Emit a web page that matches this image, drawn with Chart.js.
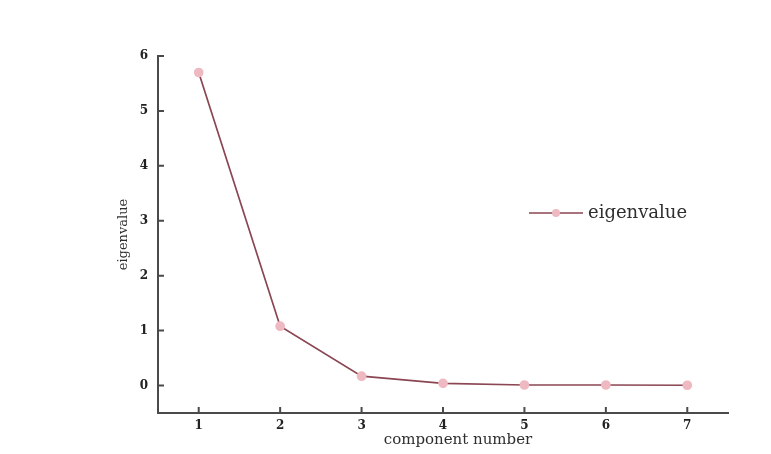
<!DOCTYPE html>
<html>
<head>
<meta charset="utf-8">
<script src="https://cdn.jsdelivr.net/npm/chart.js@4"></script>
<style>
    html, body { margin: 0; padding: 0; background: #ffffff; }
    #wrap { width: 771px; height: 454px; }
</style>
</head>
<body>
<div id="wrap"><canvas id="chart" width="771" height="454"></canvas></div>
<script>
// values
const components = [1, 2, 3, 4, 5, 6, 7];
const eigenvalues = [5.70, 1.08, 0.17, 0.04, 0.01, 0.01, 0.005];
const xTicks = [1, 2, 3, 4, 5, 6, 7];
const yTicks = [0, 1, 2, 3, 4, 5, 6];

const axisColor = '#4a4a4a';
const lineColor = '#8a4652';
const pointColor = '#efb9c2';
const serif = "'DejaVu Serif', 'Liberation Serif', serif";

// small ticks pointing into the plot, the x title (sits a bit right of centre) and the legend
const extras = {
    id: 'extras',
    afterDraw(chart) {
        const ctx = chart.ctx;
        const x = chart.scales.x;
        const y = chart.scales.y;
        const area = chart.chartArea;
        ctx.save();
        ctx.strokeStyle = axisColor;
        ctx.lineWidth = 2;
        ctx.beginPath();
        for (const t of xTicks) {
            const px = x.getPixelForValue(t);
            ctx.moveTo(px, area.bottom);
            ctx.lineTo(px, area.bottom - 6);
        }
        for (const t of yTicks) {
            const py = y.getPixelForValue(t);
            ctx.moveTo(area.left, py);
            ctx.lineTo(area.left + 6, py);
        }
        ctx.stroke();

        ctx.fillStyle = '#2e2e2e';
        ctx.textBaseline = 'middle';
        ctx.textAlign = 'center';
        ctx.font = "15px " + serif;
        ctx.fillText('component number', 458, 440);

        // legend
        const ly = 213;
        ctx.strokeStyle = lineColor;
        ctx.lineWidth = 1.5;
        ctx.beginPath();
        ctx.moveTo(529, ly);
        ctx.lineTo(583, ly);
        ctx.stroke();
        ctx.fillStyle = pointColor;
        ctx.beginPath();
        ctx.arc(556, ly, 4, 0, Math.PI * 2);
        ctx.fill();
        ctx.fillStyle = '#2e2e2e';
        ctx.textAlign = 'left';
        ctx.font = "18px " + serif;
        ctx.fillText('eigenvalue', 588, ly);
        ctx.restore();
    }
};

new Chart(document.getElementById('chart'), {
    type: 'line',
    data: {
        datasets: [{
            label: 'eigenvalue',
            data: components.map((c, i) => ({ x: c, y: eigenvalues[i] })),
            borderColor: lineColor,
            borderWidth: 1.7,
            backgroundColor: pointColor,
            pointBackgroundColor: pointColor,
            pointBorderColor: pointColor,
            pointRadius: 4,
            tension: 0,
            fill: false
        }]
    },
    options: {
        responsive: false,
        animation: false,
        layout: { padding: { left: 108, top: 56, right: 43, bottom: 0 } },
        plugins: {
            legend: { display: false },
            tooltip: { enabled: false }
        },
        scales: {
            x: {
                type: 'linear',
                min: 0.5,
                max: 7.5,
                afterBuildTicks: s => { s.ticks = xTicks.map(v => ({ value: v })); },
                afterFit: s => { s.height = 41; },
                grid: { display: true, drawOnChartArea: false, drawTicks: false },
                border: { display: true, color: axisColor, width: 2 },
                ticks: {
                    padding: 6,
                    color: '#222',
                    font: { family: serif, size: 12, weight: 'bold' }
                },
                title: { display: false }
            },
            y: {
                min: -0.5,
                max: 6,
                afterBuildTicks: s => { s.ticks = yTicks.map(v => ({ value: v })); },
                afterFit: s => { s.width = 50; },
                grid: { display: true, drawOnChartArea: false, drawTicks: false },
                border: { display: true, color: axisColor, width: 2 },
                ticks: {
                    padding: 10,
                    color: '#222',
                    font: { family: serif, size: 12, weight: 'bold' }
                },
                title: {
                    display: true,
                    text: 'eigenvalue',
                    color: '#2e2e2e',
                    padding: { top: 8, bottom: 0 },
                    font: { family: serif, size: 13 }
                }
            }
        }
    },
    plugins: [extras]
});
</script>
</body>
</html>
